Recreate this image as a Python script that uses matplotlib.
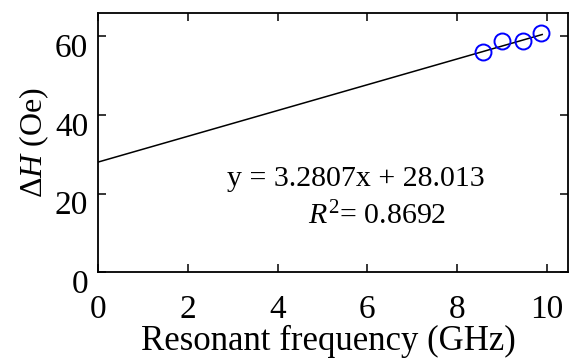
import matplotlib
matplotlib.use("Agg")
import matplotlib.pyplot as plt
import matplotlib.transforms as mtransforms
import numpy as np

# measured points
freq = [8.57, 9.01, 9.48, 9.87]
dH = [56.0, 58.9, 58.8, 60.9]

# linear fit shown on the chart
slope = 3.2807
intercept = 28.013
fit_x = [0.0, 9.9]

xticks = [0, 2, 4, 6, 8, 10]
yticks = [0, 20, 40, 60]

plt.rcParams['font.family'] = ['Liberation Serif', 'DejaVu Serif']
plt.rcParams['mathtext.fontset'] = 'custom'
plt.rcParams['mathtext.rm'] = 'Liberation Serif'
plt.rcParams['mathtext.it'] = 'Liberation Serif:italic'

fig = plt.figure(figsize=(5.77, 3.58), dpi=100)
ax = fig.add_axes([0.170, 0.240, 0.814, 0.724])

fx = np.array(fit_x)
ax.plot(fx, slope * fx + intercept, color='black', lw=1.1)
ax.plot(freq, dH, 'o', ms=11.5, mfc='none', mec='#0000ff', mew=1.4)

ax.set_xlim(0, 10.47)
ax.set_ylim(0, 66)
ax.set_xticks(xticks)
ax.set_yticks(yticks)
ax.tick_params(direction='in', length=5.5, width=1.1, top=True, right=True,
               labelsize=24)
ax.tick_params(axis='x', pad=16)
ax.tick_params(axis='y', pad=7)
for s in ax.spines.values():
    s.set_linewidth(1.3)

# y tick labels sit a bit below their ticks in the original
shift = mtransforms.ScaledTranslation(0, -0.09, fig.dpi_scale_trans)
for lab in ax.get_yticklabels():
    lab.set_transform(lab.get_transform() + shift)

ax.set_xlabel('Resonant frequency (GHz)', fontsize=25)
ax.xaxis.set_label_coords(0.49, -0.205)
ax.xaxis.label.set_va('top')
ax.set_ylabel(r'$\Delta\mathit{H}$ (Oe)', fontsize=23, labelpad=3)

ax.text(0.549, 0.332, 'y = 3.2807x + 28.013', transform=ax.transAxes,
        fontsize=21.5, ha='center', va='baseline')
ax.text(0.447, 0.185, r'$\mathit{R}^{2}$= 0.8692', transform=ax.transAxes,
        fontsize=21.5, ha='left', va='baseline')

fig.savefig('out.png', dpi=100)
